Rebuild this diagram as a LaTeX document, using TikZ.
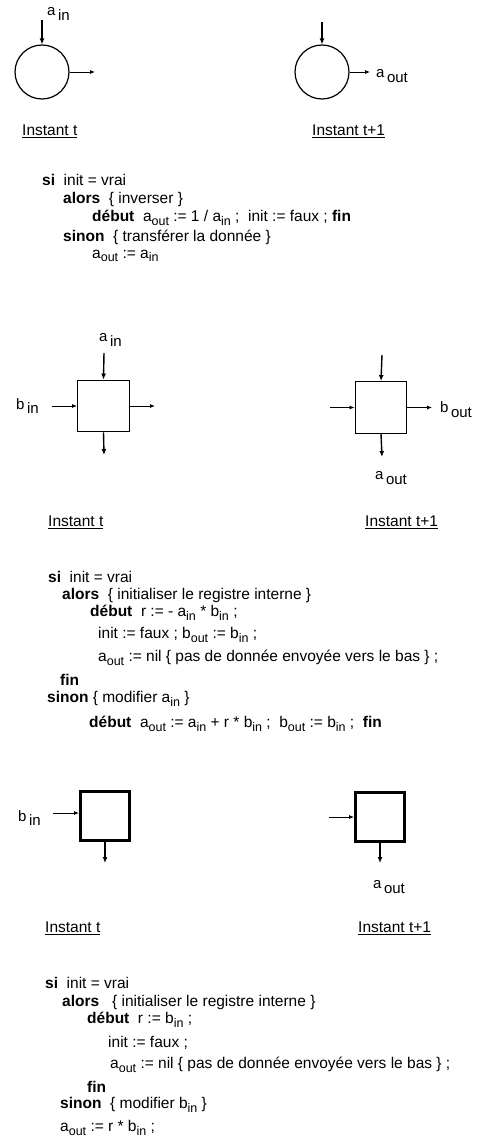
\documentclass[tikz,border=0pt]{standalone}
\usepackage{fontspec}
\setmainfont{Liberation Sans}
\usetikzlibrary{arrows.meta}
\newcommand{\sbs}[2]{#1\raisebox{-0.45ex}{\fontsize{12.5}{12.5}\selectfont #2}}
\newcommand{\lbl}[2]{#1\,\raisebox{-0.6ex}{#2}}
\newcommand{\kw}[1]{\textbf{#1}}
\tikzset{
  varr/.style={-{Latex[length=6pt,width=5pt]}, line width=1.4pt},
  harr/.style={-{Latex[length=5pt,width=4pt]}, line width=0.8pt},
  cellc/.style={circle, draw, line width=1.2pt, minimum size=54pt, inner sep=0pt},
  cellb/.style={draw, line width=1.4pt, minimum size=51.5pt, inner sep=0pt},
  cellt/.style={draw, line width=3pt, minimum size=49pt, inner sep=0pt},
  code/.style={anchor=west, inner sep=0pt, font=\fontsize{15.5}{17}\selectfont},
  lab/.style={anchor=west, inner sep=0pt, font=\fontsize{15}{17}\selectfont},
  inst/.style={anchor=west, inner sep=0pt, font=\fontsize{15.5}{17}\selectfont}
}
\begin{document}
\begin{tikzpicture}[x=1pt,y=-1pt]
\useasboundingbox (0,0) rectangle (488,1142);
% --- Cellule inversion ---
% instant t
\node[cellc] (c1) at (42,72) {};
\coordinate (c1n) at (42,20);
\coordinate (c1e) at (95,72);
\draw[varr] (c1n) -- (c1.north);
\draw[harr] (c1.east) -- (c1e);
\node[lab] (c1ain) at (47,14) {\lbl{a}{in}};
% instant t+1
\node[cellc] (c2) at (322,72) {};
\coordinate (c2n) at (322,22);
\coordinate (c2e) at (370,72);
\draw[varr] (c2n) -- (c2.north);
\draw[harr] (c2.east) -- (c2e);
\node[lab] (c2aout) at (376,76) {\lbl{a}{out}};
\node[inst] (i1a) at (22,131) {\underline{Instant t}};
\node[inst] (i1b) at (312,131) {\underline{Instant t+1}};

% algorithme 1
\node[code] (p1a) at (42,180) {\kw{si}\ \ init = vrai};
\node[code] (p1b) at (63,199) {\kw{alors}\ \ \{ inverser \}};
\node[code] (p1c) at (92,218) {\kw{début}\ \ \sbs{a}{out} := 1 / \sbs{a}{in} ;\ \ init := faux ; \kw{fin}};
\node[code] (p1d) at (63,237) {\kw{sinon}\ \ \{ transférer la donnée \}};
\node[code] (p1e) at (92,256) {\sbs{a}{out} := \sbs{a}{in}};

% --- Cellule triangulaire ---
% instant t
\node[cellb] (b1) at (103.5,406) {};
\coordinate (b1n) at (104,353);
\coordinate (b1w) at (52,406);
\coordinate (b1e) at (155,406);
\coordinate (b1s) at (104,455);
\draw[varr] (b1n) -- (b1.north);
\draw[harr] (b1w) -- (b1.west);
\draw[harr] (b1.east) -- (b1e);
\draw[varr] (b1.south) -- (b1s);
\node[lab] (b1ain) at (99,340) {\lbl{a}{in}};
\node[lab] (b1bin) at (16,406) {\lbl{b}{in}};
% instant t+1
\node[cellb] (b2) at (381,407.5) {};
\coordinate (b2n) at (382,355);
\coordinate (b2w) at (330,407.5);
\coordinate (b2e) at (432,407.5);
\coordinate (b2s) at (382,457);
\draw[varr] (b2n) -- (b2.north);
\draw[harr] (b2w) -- (b2.west);
\draw[harr] (b2.east) -- (b2e);
\draw[varr] (b2.south) -- (b2s);
\node[lab] (b2bout) at (440,410) {\lbl{b}{out}};
\node[lab] (b2aout) at (375,478) {\lbl{a}{out}};
\node[inst] (i2a) at (48,522) {\underline{Instant t}};
\node[inst] (i2b) at (365,522) {\underline{Instant t+1}};

% algorithme 2
\node[code] (p2a) at (48,577) {\kw{si}\ \ init = vrai};
\node[code] (p2b) at (62,595) {\kw{alors}\ \ \{ initialiser le registre interne \}};
\node[code] (p2c) at (90,613) {\kw{début}\ \ r := - \sbs{a}{in} * \sbs{b}{in} ;};
\node[code] (p2d) at (98,635) {init := faux ; \sbs{b}{out} := \sbs{b}{in} ;};
\node[code] (p2e) at (98,658) {\sbs{a}{out} := nil \{ pas de donnée envoyée vers le bas \} ;};
\node[code] (p2f) at (60,680) {\kw{fin}};
\node[code] (p2g) at (47,699) {\kw{sinon} \{ modifier \sbs{a}{in} \}};
\node[code] (p2h) at (89,724) {\kw{début}\ \ \sbs{a}{out} := \sbs{a}{in} + r * \sbs{b}{in} ;\ \ \sbs{b}{out} := \sbs{b}{in} ;\ \ \kw{fin}};

% --- Cellule carree ---
% instant t
\node[cellt] (d1) at (105,816) {};
\coordinate (d1w) at (53,813);
\coordinate (d1s) at (105,863);
\draw[harr] (d1w) -- (d1.west |- d1w);
\draw[varr] (d1.south) -- (d1s);
\node[lab] (d1bin) at (18,818) {\lbl{b}{in}};
% instant t+1
\node[cellt] (d2) at (380,817) {};
\coordinate (d2w) at (329,817);
\coordinate (d2s) at (380,863);
\draw[harr] (d2w) -- (d2.west);
\draw[varr] (d2.south) -- (d2s);
\node[lab] (d2aout) at (373,887) {\lbl{a}{out}};
\node[inst] (i3a) at (45,928) {\underline{Instant t}};
\node[inst] (i3b) at (358,928) {\underline{Instant t+1}};

% algorithme 3
\node[code] (p3a) at (45,983) {\kw{si}\ \ init = vrai};
\node[code] (p3b) at (62,1002) {\kw{alors}\ \ \ \{ initialiser le registre interne \}};
\node[code] (p3c) at (87,1020) {\kw{début}\ \ r := \sbs{b}{in} ;};
\node[code] (p3d) at (108,1043) {init := faux ;};
\node[code] (p3e) at (110,1065) {\sbs{a}{out} := nil \{ pas de donnée envoyée vers le bas \} ;};
\node[code] (p3f) at (87,1087) {\kw{fin}};
\node[code] (p3g) at (60,1105) {\kw{sinon}\ \ \{ modifier \sbs{b}{in} \}};
\node[code] (p3h) at (60,1128) {\sbs{a}{out} := r * \sbs{b}{in} ;};
\end{tikzpicture}
\end{document}
